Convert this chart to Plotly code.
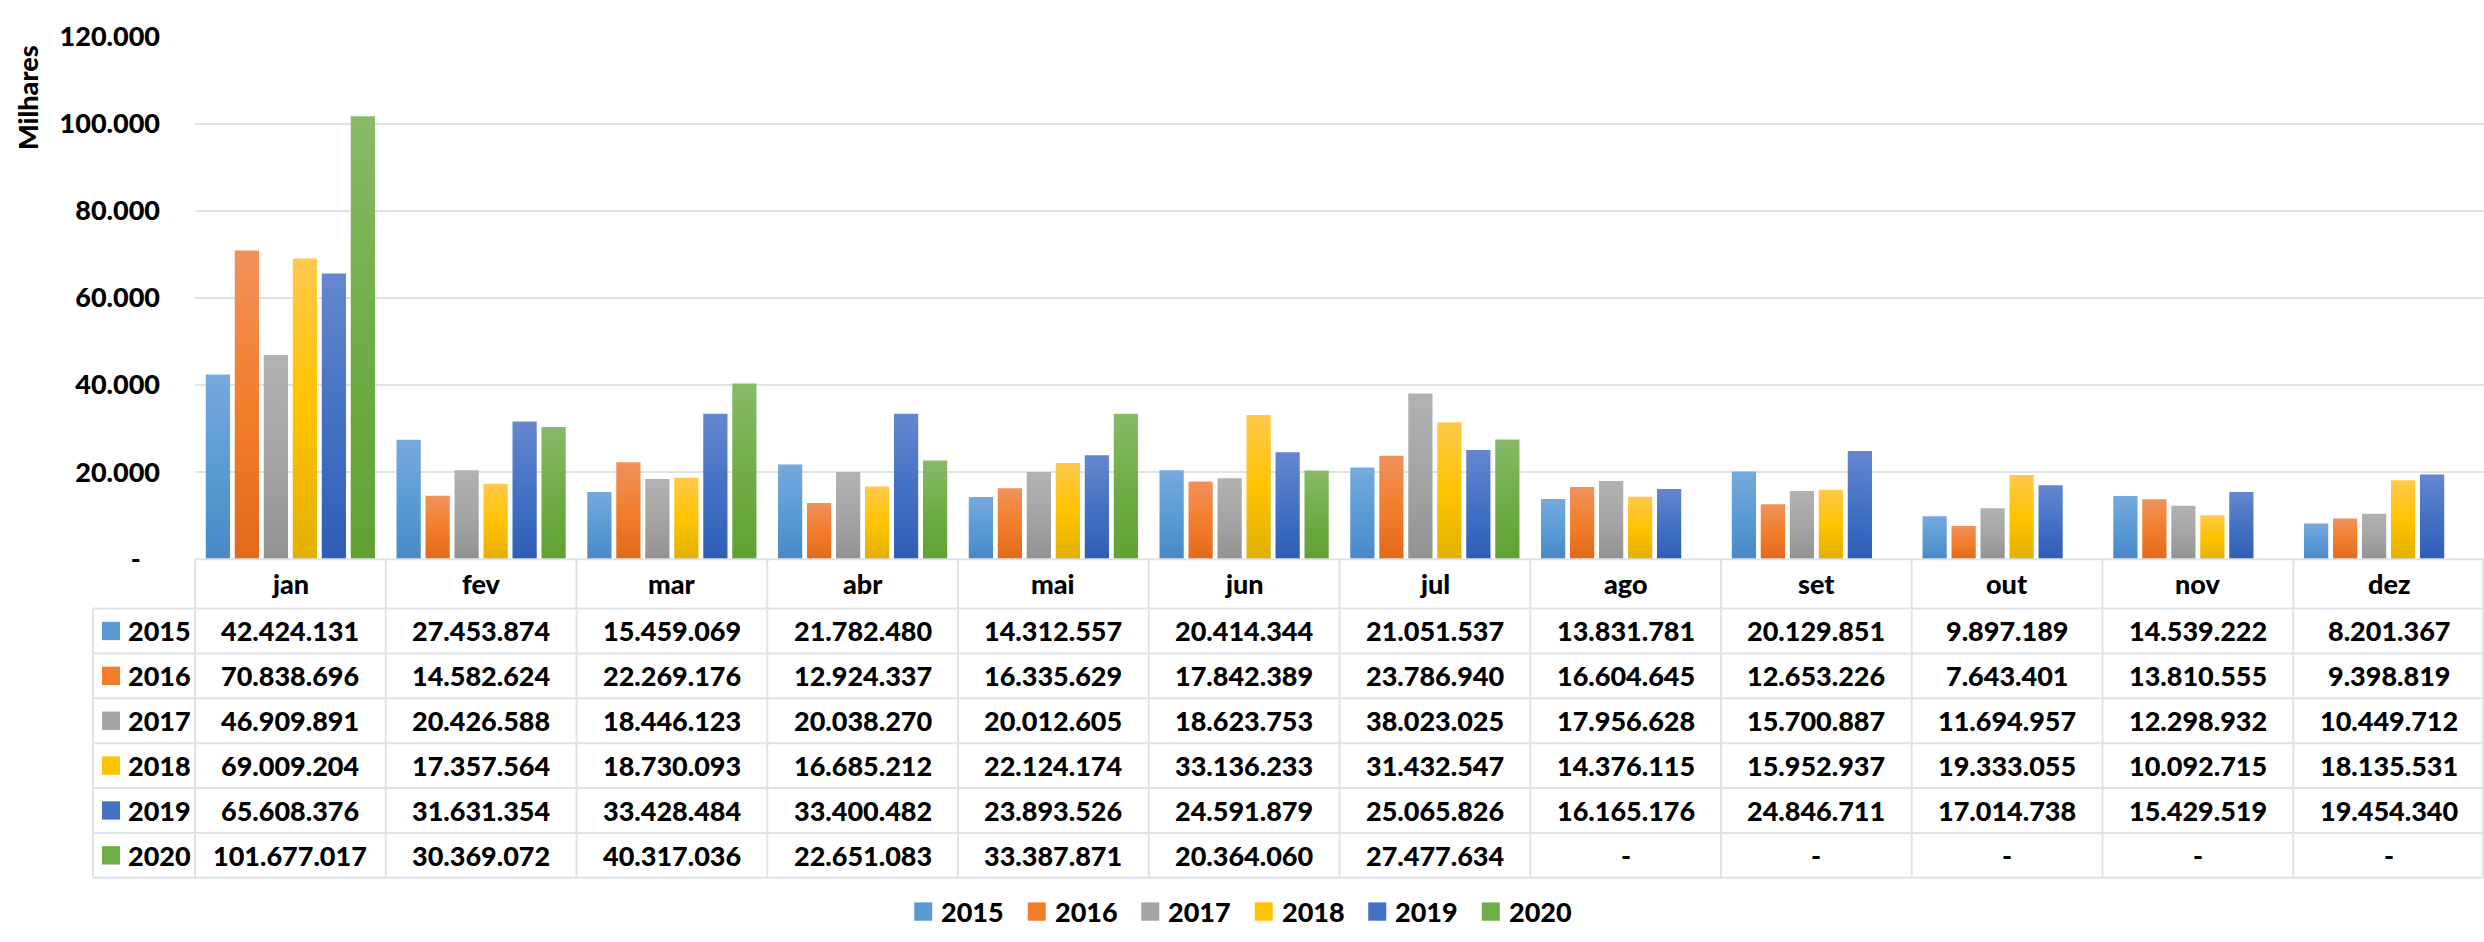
import plotly.graph_objects as go

# ---- data -------------------------------------------------------------
months = ["jan", "fev", "mar", "abr", "mai", "jun", "jul", "ago", "set", "out", "nov", "dez"]
years = ["2015", "2016", "2017", "2018", "2019", "2020"]

v2015 = [42424131, 27453874, 15459069, 21782480, 14312557, 20414344,
         21051537, 13831781, 20129851, 9897189, 14539222, 8201367]
v2016 = [70838696, 14582624, 22269176, 12924337, 16335629, 17842389,
         23786940, 16604645, 12653226, 7643401, 13810555, 9398819]
v2017 = [46909891, 20426588, 18446123, 20038270, 20012605, 18623753,
         38023025, 17956628, 15700887, 11694957, 12298932, 10449712]
v2018 = [69009204, 17357564, 18730093, 16685212, 22124174, 33136233,
         31432547, 14376115, 15952937, 19333055, 10092715, 18135531]
v2019 = [65608376, 31631354, 33428484, 33400482, 23893526, 24591879,
         25065826, 16165176, 24846711, 17014738, 15429519, 19454340]
v2020 = [101677017, 30369072, 40317036, 22651083, 33387871, 20364060,
         27477634, None, None, None, None, None]
series = [v2015, v2016, v2017, v2018, v2019, v2020]

y_ticks = [0, 20000, 40000, 60000, 80000, 100000, 120000]   # thousands

# (bottom, middle, top) colours of each series' vertical gradient
palette = [
    ("#4888C8", "#5B9BD5", "#78A9DD"),
    ("#E3691B", "#F27E2C", "#F0925C"),
    ("#929292", "#A5A5A5", "#B2B2B2"),
    ("#E2B000", "#FFC300", "#FFC94C"),
    ("#2E5DB7", "#4472C4", "#6687CF"),
    ("#61A133", "#70AD47", "#88BA68"),
]

# ---- geometry ---------------------------------------------------------
W, H = 2484, 942
PLOT_L, PLOT_T, PLOT_B = 195, 19, 561
COL_W = (W - PLOT_L) / len(months)
HEAD_B = 612
ROW_H = 46.5
LABEL_L = 93
KEY = 18
LEG_Y = 926          # legend row centre
LEG_STEP = 113.5     # distance between legend entries
GRID = "#DFE3E8"
FONT = dict(family="Lato, 'Open Sans', sans-serif", size=27, color="#000000", weight=900)

SLOT = 0.152      # category fraction per bar
BAR_W = 0.127     # visible bar width (category fraction)


def px_x(p):
    return p / W


def px_y(p):
    return (H - p) / H


def fmt(v):
    return "-" if v is None else f"{v:,}".replace(",", ".")


def key_rect(x0, yc, color):
    return dict(type="rect", xref="paper", yref="paper",
                x0=px_x(x0), x1=px_x(x0 + KEY),
                y0=px_y(yc - KEY / 2 - 0.5), y1=px_y(yc + KEY / 2 + 0.5),
                fillcolor=color, line=dict(width=0))


fig = go.Figure()

# ---- bars (one filled path per bar so each carries its own gradient) --
for j, (yr, vals) in enumerate(zip(years, series)):
    bottom, mid, top = palette[j]
    for i, v in enumerate(vals):
        if v is None:
            continue
        c = i + (j - (len(years) - 1) / 2) * SLOT
        x0, x1 = c - BAR_W / 2, c + BAR_W / 2
        k = v / 1000
        fig.add_trace(go.Scatter(
            x=[x0, x0, x1, x1, x0], y=[0, k, k, 0, 0],
            mode="none", fill="toself",
            fillgradient=dict(type="vertical",
                              colorscale=[[0, bottom], [0.5, mid], [1, top]]),
            showlegend=False, name=yr,
            hoveron="fills", hoverinfo="text",
            text=f"{yr} {months[i]}: {fmt(v)}",
        ))

# ---- data table below the plot ----------------------------------------
shapes = []
annotations = []
table_bottom = HEAD_B + ROW_H * len(years)
line = dict(color=GRID, width=2)

# horizontal rules
shapes.append(dict(type="line", xref="paper", yref="paper",
                   x0=px_x(PLOT_L), x1=1, y0=px_y(PLOT_B), y1=px_y(PLOT_B), line=line))
for r in range(len(years) + 1):
    yy = HEAD_B + r * ROW_H
    shapes.append(dict(type="line", xref="paper", yref="paper",
                       x0=px_x(LABEL_L), x1=1, y0=px_y(yy), y1=px_y(yy), line=line))
# vertical rules
shapes.append(dict(type="line", xref="paper", yref="paper",
                   x0=px_x(LABEL_L), x1=px_x(LABEL_L),
                   y0=px_y(HEAD_B), y1=px_y(table_bottom), line=line))
for c in range(len(months) + 1):
    xx = min(PLOT_L + c * COL_W, W - 1)
    shapes.append(dict(type="line", xref="paper", yref="paper",
                       x0=px_x(xx), x1=px_x(xx),
                       y0=px_y(PLOT_B), y1=px_y(table_bottom), line=line))

# month headers
for i, m in enumerate(months):
    annotations.append(dict(text=m, xref="paper", yref="paper",
                            x=px_x(PLOT_L + (i + 0.5) * COL_W),
                            y=px_y((PLOT_B + HEAD_B) / 2),
                            xanchor="center", yanchor="middle",
                            showarrow=False, font=FONT))

# rows: colour key, year, values
for r, (yr, vals) in enumerate(zip(years, series)):
    yc = HEAD_B + (r + 0.5) * ROW_H
    shapes.append(key_rect(102, yc, palette[r][1]))
    annotations.append(dict(text=yr, xref="paper", yref="paper",
                            x=px_x(126), y=px_y(yc),
                            xanchor="left", yanchor="middle",
                            showarrow=False, font=FONT))
    for i, v in enumerate(vals):
        annotations.append(dict(text=fmt(v), xref="paper", yref="paper",
                                x=px_x(PLOT_L + (i + 0.5) * COL_W), y=px_y(yc),
                                xanchor="center", yanchor="middle",
                                showarrow=False, font=FONT))

# ---- series legend along the bottom edge -------------------------------
leg_left = W / 2 - (LEG_STEP * (len(years) - 1) + KEY + 8 + 62) / 2
for j, yr in enumerate(years):
    kx = leg_left + j * LEG_STEP
    shapes.append(key_rect(kx, LEG_Y, palette[j][1]))
    annotations.append(dict(text=yr, xref="paper", yref="paper",
                            x=px_x(kx + KEY + 7), y=px_y(LEG_Y),
                            xanchor="left", yanchor="middle",
                            showarrow=False, font=FONT))

# axis title
annotations.append(dict(text="Milhares", xref="paper", yref="paper",
                        x=px_x(27), y=px_y(83), textangle=-90,
                        xanchor="center", yanchor="middle",
                        showarrow=False, font=FONT))

tick_text = ["-\u00a0\u00a0\u00a0" if t == 0 else f"{t:,}".replace(",", ".") for t in y_ticks]

fig.update_layout(
    width=W, height=H,
    margin=dict(l=0, r=0, t=0, b=0),
    paper_bgcolor="white", plot_bgcolor="white",
    font=FONT,
    showlegend=False,
    xaxis=dict(domain=[px_x(PLOT_L), 1], range=[-0.5, len(months) - 0.5],
               showgrid=False, zeroline=False, showticklabels=False,
               showline=False, fixedrange=True),
    yaxis=dict(domain=[px_y(PLOT_B), px_y(PLOT_T)], range=[0, y_ticks[-1]],
               tickvals=y_ticks, ticktext=tick_text, tickfont=FONT,
               showgrid=True, gridcolor=GRID, gridwidth=2,
               zeroline=False, showline=False, ticks="",
               ticklabelstandoff=34, fixedrange=True),
    shapes=shapes,
    annotations=annotations,
)

fig.write_html("out.html")
